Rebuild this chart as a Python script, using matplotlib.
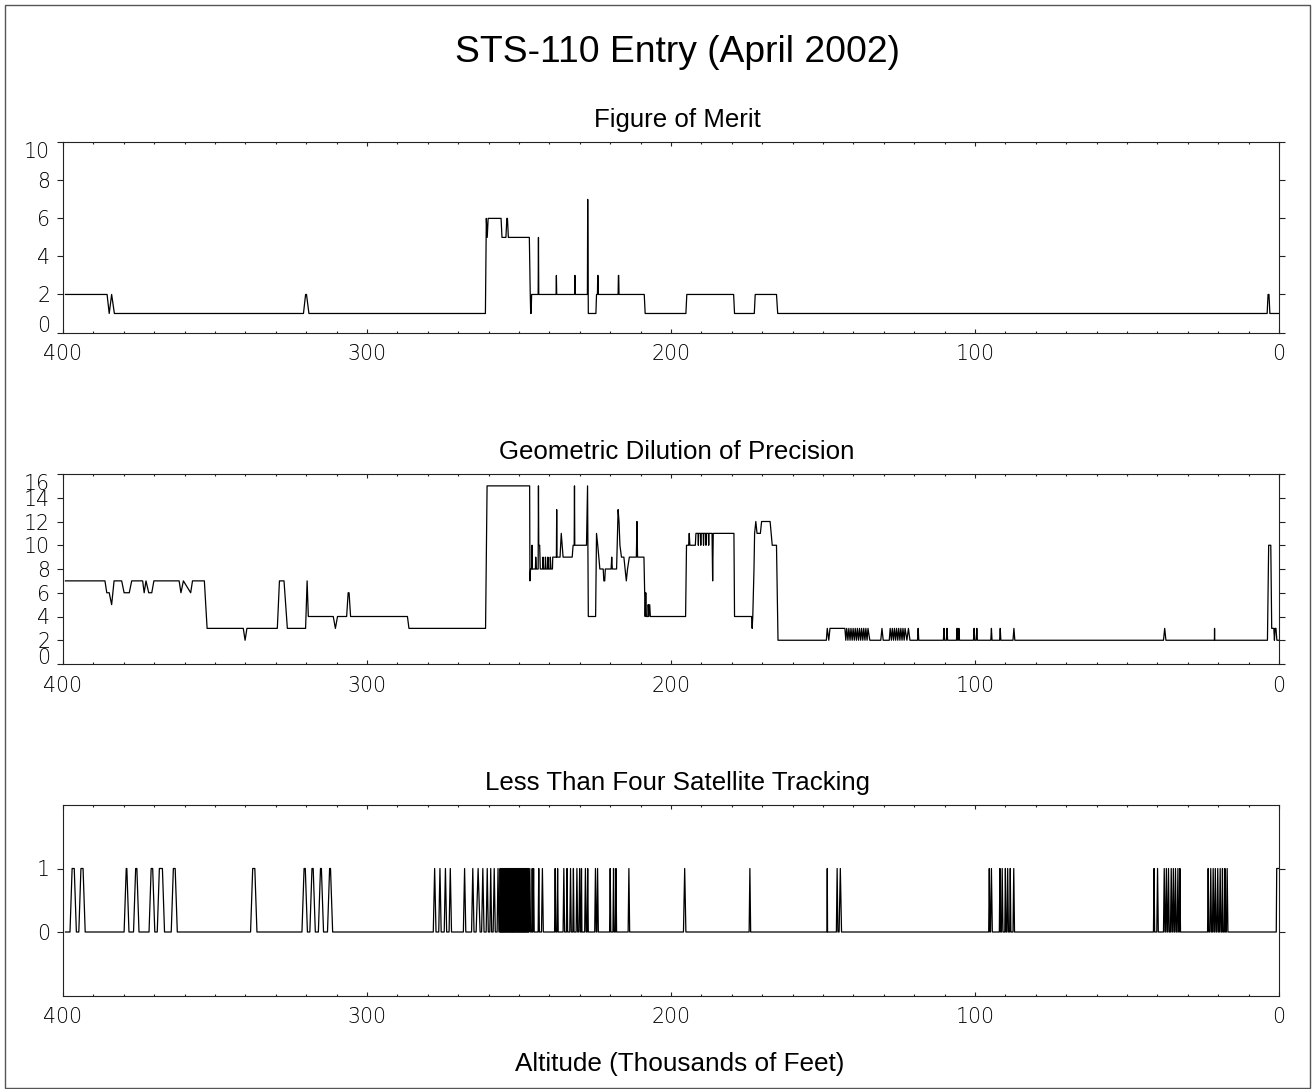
import matplotlib
matplotlib.use("Agg")
import matplotlib.pyplot as plt
from matplotlib.patches import Rectangle
from matplotlib.ticker import MultipleLocator

# ---------------- data ----------------
fom_alt = [399.2, 385.5, 384.8, 384.0, 383.1, 320.9, 320.2, 319.9, 319.1,
           261.05, 260.75, 260.45, 260.15, 255.9, 255.6, 254.3, 254.0, 253.8, 253.5,
           246.6, 246.3, 246.15, 246.0, 245.85,
           243.7, 243.6, 243.5, 237.8, 237.7, 237.6, 231.7, 231.6, 231.5,
           227.5, 227.4, 227.2, 224.7, 224.5, 224.2, 224.1, 224.0, 223.9,
           217.4, 217.3, 217.2, 217.1, 208.8, 208.5, 195.1, 194.8, 179.4, 179.1,
           172.6, 172.3, 165.3, 164.9, 3.9, 3.6, 3.3, 3.0, 0.0]
fom_val = [2, 2, 1, 2, 1, 1, 2, 2, 1,
           1, 6, 5, 6, 6, 5, 5, 6, 6, 5,
           5, 2, 1, 1, 2,
           2, 5, 2, 2, 3, 2, 2, 3, 2,
           2, 7, 1, 1, 2, 2, 3, 3, 2,
           2, 3, 3, 2, 2, 1, 1, 2, 2, 1,
           1, 2, 2, 1, 1, 2, 2, 1, 1]

gdop_alt = [399.2, 386.2, 385.6, 384.8, 384.0, 383.2, 380.7, 379.9, 378.2, 377.4,
            373.8, 373.3, 372.7, 371.8, 370.8, 370.1, 361.8, 361.2, 360.4, 358.0, 357.4,
            353.5, 352.6, 340.7, 340.1, 339.5, 329.5, 328.8, 327.3, 326.2, 320.2, 319.7, 319.3,
            311.1, 310.4, 309.7, 306.7, 306.2, 305.9, 305.4, 286.7, 286.2, 261.0, 260.5,
            246.5, 246.4, 246.2, 245.8, 245.7, 245.6, 244.6, 244.5, 244.3, 243.7, 243.6, 243.5,
            243.2, 243.0, 242.2, 242.1, 241.9, 241.4, 241.3, 241.1, 240.6, 240.5, 240.3,
            239.8, 239.7, 239.5, 239.0, 238.9, 237.7, 237.6, 237.5, 236.5, 236.1, 235.5,
            232.5, 232.2, 231.85, 231.75, 231.65, 227.8, 227.45, 227.2, 224.8, 224.5, 224.1,
            223.4, 222.3, 222.1, 221.8, 221.6, 219.7, 219.5, 219.3, 217.9, 217.4, 217.1,
            216.8, 216.3, 215.5, 215.1, 214.7, 214.3, 213.7, 211.4, 211.2, 211.0, 208.9,
            208.5, 208.3, 208.1, 207.6, 207.5, 207.3, 207.0, 206.8, 195.2, 194.9, 194.2,
            194.0, 193.8, 192.0, 191.8, 191.1, 191.0, 190.9, 190.3, 190.2, 190.1, 189.4,
            189.3, 189.2, 188.6, 188.5, 188.4, 187.7, 187.6, 187.5, 186.5, 186.3, 186.1,
            179.3, 179.1, 173.5, 173.3, 173.1, 172.8, 172.7, 172.5, 172.1, 171.7, 170.6,
            170.2, 167.4, 166.7, 165.3, 164.8,
            148.9, 148.6, 148.1, 147.7, 142.8, 142.5, 142.2, 141.8, 141.5, 141.1, 140.8,
            140.4, 140.1, 139.7, 139.4, 139.0, 138.7, 138.3, 138.0, 137.6, 137.3, 136.9,
            136.6, 136.2, 135.9, 135.5, 135.2, 134.6, 131.0, 130.6, 130.2, 128.2, 127.9,
            127.5, 127.2, 126.8, 126.5, 126.1, 125.8, 125.4, 125.1, 124.7, 124.4, 124.0,
            123.7, 123.3, 123.0, 122.4, 121.9, 121.4, 118.9, 118.7, 118.5, 110.4, 110.2,
            110.0, 109.4, 109.2, 109.0, 106.1, 105.9, 105.7, 105.5, 105.3, 105.1, 100.5,
            100.3, 100.1, 99.6, 99.4, 99.2, 94.8, 94.6, 94.4, 91.9, 91.7, 91.5, 87.5,
            87.2, 86.9, 38.0, 37.6, 37.2, 21.25, 21.2, 21.15, 3.8, 3.4, 2.7, 2.4, 1.7,
            1.5, 1.3, 1.0, 0.7, 0.0]
gdop_val = [7, 7, 6, 6, 5, 7, 7, 6, 6, 7,
            7, 6, 7, 6, 6, 7, 7, 6, 7, 6, 7,
            7, 3, 3, 2, 3, 3, 7, 7, 3, 3, 7, 4,
            4, 3, 4, 4, 6, 6, 4, 4, 3, 3, 15,
            15, 7, 8, 8, 10, 8, 8, 9, 8, 8, 15, 10,
            10, 8, 8, 9, 8, 8, 9, 8, 8, 9, 8,
            8, 9, 8, 8, 9, 9, 13, 9, 9, 11, 9,
            9, 10, 10, 15, 10, 10, 15, 4, 4, 11, 10,
            8, 8, 7, 7, 8, 8, 9, 8, 8, 13, 12,
            10, 9, 9, 8, 7, 8, 9, 9, 12, 9, 9,
            4, 6, 4, 4, 5, 4, 5, 4, 4, 10, 10,
            11, 10, 10, 11, 11, 10, 11, 11, 10, 11, 11,
            10, 11, 11, 10, 11, 11, 10, 11, 11, 7, 11,
            11, 4, 4, 3, 4, 7, 8, 11, 12, 11, 11,
            12, 12, 10, 10, 2,
            2, 3, 2, 3, 3, 2, 3, 2, 3, 2, 3,
            2, 3, 2, 3, 2, 3, 2, 3, 2, 3, 2,
            3, 2, 3, 2, 3, 2, 2, 3, 2, 2, 3,
            2, 3, 2, 3, 2, 3, 2, 3, 2, 3, 2,
            3, 2, 3, 2, 3, 2, 2, 3, 2, 2, 3,
            2, 2, 3, 2, 2, 3, 2, 2, 3, 2, 2,
            3, 2, 2, 3, 2, 2, 3, 2, 2, 3, 2, 2,
            3, 2, 2, 3, 2, 2, 3, 2, 2, 10, 10, 3, 3,
            2, 3, 3, 2, 2]

# Less than four satellites: intervals (leave 0, return to 0) in kft
lt4_on = [397.7, 394.8, 379.9, 376.8, 371.7, 369.0, 364.4, 338.3, 321.4, 318.8, 316.0, 313.0,
          278.2, 276.4, 274.6, 273.0, 268.3, 265.6, 264.1, 262.3, 260.8, 259.6, 258.5, 257.2,
          256.3, 256.0, 255.7, 255.4, 255.1, 254.8, 254.5, 254.2, 253.9, 253.6, 253.3, 253.0,
          252.7, 252.4, 252.1, 251.8, 251.5, 251.2, 250.9, 250.6, 250.3, 250.0, 249.7, 249.4,
          249.1, 248.8, 248.5, 248.2, 247.9, 247.6, 247.3, 247.0,
          246.7, 245.8, 245.4, 243.7, 242.6, 238.3, 237.5, 235.5, 234.4, 233.3, 232.3, 231.2,
          230.3, 229.6, 228.4, 227.6, 225.1, 224.4, 220.2, 219.1, 218.3, 214.1, 195.9, 174.3,
          148.7, 145.6, 144.7,
          95.5, 94.9, 92.0, 91.3, 90.2, 89.5, 88.6, 87.5,
          41.3, 40.2, 38.0, 37.3, 36.6, 35.7, 35.0, 34.3, 33.5, 32.8,
          23.5, 22.7, 21.9, 21.2, 20.4, 19.6, 18.8, 18.0, 17.3]
lt4_off = [395.6, 392.7, 378.3, 375.0, 369.8, 366.6, 362.4, 336.2, 319.6, 317.0, 314.3, 311.3,
           277.3, 275.6, 273.8, 272.2, 267.5, 264.8, 262.8, 261.5, 260.1, 259.0, 257.8, 256.6,
           256.1, 255.8, 255.5, 255.2, 254.9, 254.6, 254.3, 254.0, 253.7, 253.4, 253.1, 252.8,
           252.5, 252.2, 251.9, 251.6, 251.3, 251.0, 250.7, 250.4, 250.1, 249.8, 249.5, 249.2,
           248.9, 248.6, 248.3, 248.0, 247.7, 247.4, 247.1, 246.8,
           246.2, 245.5, 245.0, 243.3, 242.0, 237.9, 237.1, 235.0, 234.0, 232.8, 231.9, 230.7,
           229.8, 229.3, 227.9, 227.2, 224.6, 223.9, 219.8, 218.7, 217.9, 213.6, 195.1, 173.8,
           148.5, 145.1, 143.9,
           95.1, 94.3, 91.6, 90.8, 89.8, 89.0, 88.2, 87.0,
           40.9, 39.7, 37.5, 36.8, 36.1, 35.2, 34.5, 33.8, 33.0, 32.4,
           23.1, 22.2, 21.4, 20.7, 19.9, 19.1, 18.4, 17.6, 16.8]
lt4_final_on = 0.9   # goes to 1 near touchdown and stays

titles = ["Figure of Merit", "Geometric Dilution of Precision",
          "Less Than Four Satellite Tracking"]
main_title = "STS-110 Entry (April 2002)"
xlabel = "Altitude (Thousands of Feet)"

# build the 0/1 trace from the intervals
lt4_alt = [399.2]
lt4_val = [0]
for a0, a1 in zip(lt4_on, lt4_off):
    r = min(0.7, (a0 - a1) / 2.0)
    lt4_alt += [a0, a0 - r, a1 + r, a1]
    lt4_val += [0, 1, 1, 0]
lt4_alt += [lt4_final_on, lt4_final_on - 0.15, -1.0]
lt4_val += [0, 1, 1]

# ---------------- figure ----------------
W, H = 1315, 1089
fig = plt.figure(figsize=(W / 100, H / 100), dpi=100)
fig.patch.set_facecolor("white")

def px_box(top, bottom, left=63, right=1279):
    return [left / W, 1 - bottom / H, (right - left) / W, (bottom - top) / H]

tops = [142.3, 474, 805]
bottoms = [332.5, 664, 995.5]
series = [(fom_alt, fom_val), (gdop_alt, gdop_val), (lt4_alt, lt4_val)]
ylims = [(0, 10), (0, 16), (-1, 2)]
yticks = [list(range(0, 11, 2)), list(range(0, 17, 2)), [0, 1]]

title_font = ["Liberation Sans", "DejaVu Sans"]

for i, (xs, ys) in enumerate(series):
    ax = fig.add_axes(px_box(tops[i], bottoms[i]))
    ax.plot(xs, ys, color="black", lw=0.9)
    ax.set_xlim(400, 0)
    ax.set_ylim(*ylims[i])
    ax.set_xticks([400, 300, 200, 100, 0])
    ax.xaxis.set_minor_locator(MultipleLocator(10))
    ax.set_yticks(yticks[i])
    for sp in ax.spines.values():
        sp.set_linewidth(0.8)
        sp.set_color("#222222")
    ax.tick_params(axis="x", which="both", direction="in", top=True, bottom=True,
                   color="#222222", width=0.8)
    ax.tick_params(axis="x", which="major", length=3.0, pad=8.4)
    ax.tick_params(axis="x", which="minor", length=1.5)
    ax.tick_params(axis="y", which="major", direction="out", left=True, right=True,
                   length=4.3, width=0.8, pad=5, color="#222222")
    for lab in ax.get_xticklabels() + ax.get_yticklabels():
        lab.set_fontfamily("DejaVu Sans")
        lab.set_fontsize(14.8)
        lab.set_fontweight("light")
    if i < 2:
        mt = ax.yaxis.get_major_ticks()
        mt[-1].label1.set_verticalalignment("top")
        mt[0].label1.set_verticalalignment("baseline")
    fig.text(677 / W, 1 - (tops[i] - 15) / H, titles[i], ha="center", va="baseline",
             fontsize=18.6, family=title_font)

fig.text(677 / W, 1 - 62 / H, main_title, ha="center", va="baseline",
         fontsize=26.8, family=title_font)
fig.text(680 / W, 1 - 1071.5 / H, xlabel, ha="center", va="baseline",
         fontsize=18.8, family=title_font)

fig.patches.append(Rectangle((5 / W, 1 - 1088 / H), 1305 / W, 1083 / H,
                             transform=fig.transFigure, fill=False,
                             edgecolor="#555555", lw=1.0))

fig.savefig("out.png", dpi=100)
